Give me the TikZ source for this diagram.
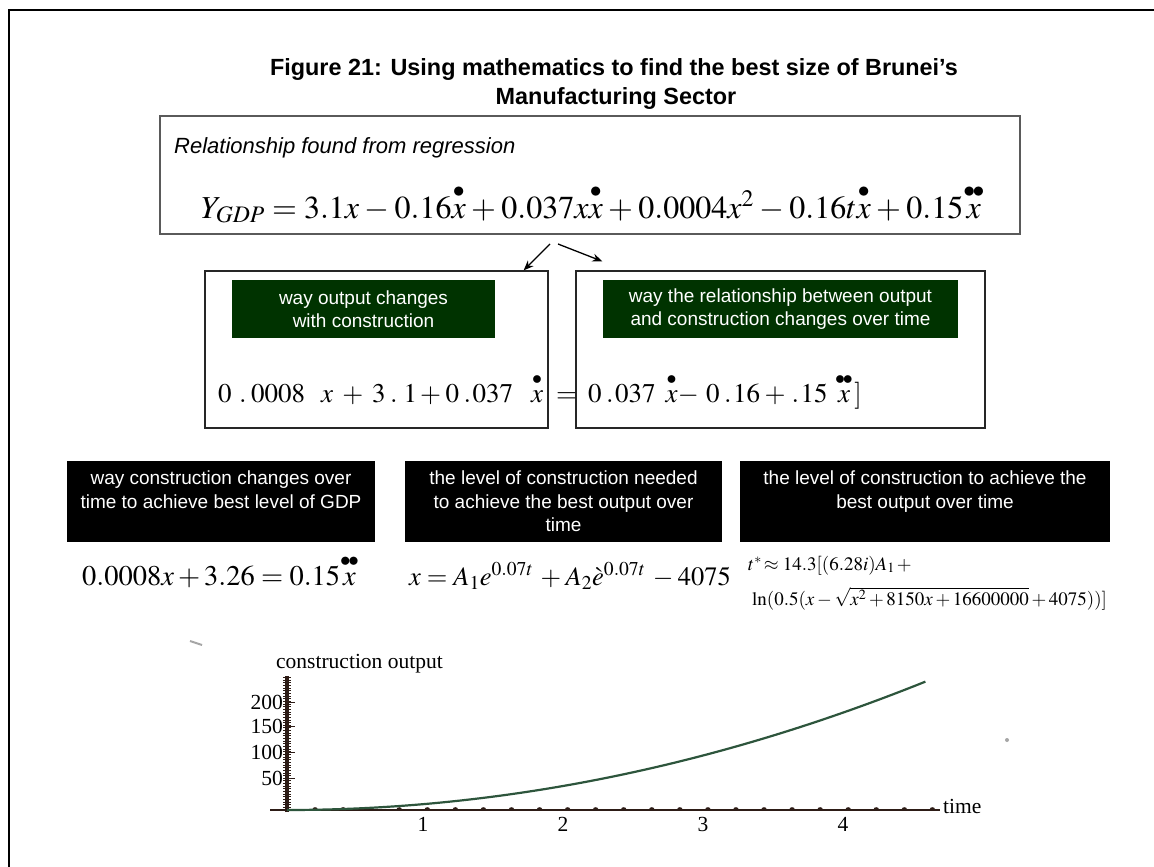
\documentclass[tikz,border=0pt]{standalone}
\usepackage{amsmath}
\usepackage{mathptmx}
\usepackage{fontspec}
\setmainfont{Liberation Serif}
\setsansfont{Liberation Sans}
\usetikzlibrary{arrows.meta}
\definecolor{hdrgreen}{RGB}{0,51,0}
\definecolor{axisbrown}{RGB}{45,28,22}
\definecolor{curvegreen}{RGB}{45,85,60}
\definecolor{boxgray}{RGB}{90,90,90}
\newcommand{\xd}{\overset{\bullet}{x}}
\newcommand{\xdd}{\overset{\bullet\mkern-2mu\bullet}{x}}
\newcommand{\hdrfont}{\sffamily\fontsize{19}{23.5}\selectfont}
\begin{document}
\begin{tikzpicture}[x=1pt,y=-1pt,
  frame/.style={line width=2pt,black},
  topbox/.style={draw=boxgray,line width=1.4pt,inner sep=0pt},
  midbox/.style={draw=black!85,line width=1.3pt,inner sep=0pt},
  greenhdr/.style={fill=hdrgreen,text=white,font=\hdrfont,align=center,inner sep=0pt},
  blackhdr/.style={fill=black,text=white,font=\hdrfont,align=center,inner sep=0pt},
  arr/.style={line width=1.3pt,-{Stealth[length=10pt,width=8pt]}},
  eq/.style={anchor=base west,inner sep=0pt},
  axis/.style={axisbrown,line width=2pt},
  glab/.style={inner sep=0pt,font=\fontsize{21.5}{24}\selectfont}
]
\useasboundingbox (0,0) rectangle (1154,867);
\fill[white] (0,0) rectangle (1154,867);
% outer frame (top and left visible)
\draw[frame] (9,867) -- (9,10) -- (1154,10);
% title
\node[anchor=base,inner sep=0pt,font=\sffamily\bfseries\fontsize{23.4}{25}\selectfont] (title1) at (614,75) {Figure 21: Using mathematics to find the best size of Brunei’s};
\node[anchor=base,inner sep=0pt,font=\sffamily\bfseries\fontsize{23.4}{25}\selectfont] (title2) at (616,104) {Manufacturing Sector};
% top box
\node[topbox,minimum width=860pt,minimum height=118pt] (top) at (590,175) {};
\node[anchor=base west,inner sep=0pt,font=\sffamily\itshape\fontsize{22}{26}\selectfont] (rel) at (174,153) {Relationship found from regression};
\node[eq,font=\fontsize{32}{38}\selectfont] (eqtop) at (201,218) {\medmuskip=3mu\thickmuskip=4mu$Y_{GDP}=3.1x-0.16\xd+0.037x\xd+0.0004x^2-0.16t\xd+0.15\xdd$};
% middle boxes
\node[midbox,minimum width=343pt,minimum height=157pt] (midL) at (376.5,349.5) {};
\node[midbox,minimum width=409pt,minimum height=157pt] (midR) at (780.5,349.5) {};
\node[greenhdr,minimum width=263pt,minimum height=58pt] (gL) at (363.5,309) {way output changes\\with construction};
\node[greenhdr,minimum width=355pt,minimum height=58pt] (gR) at (780.5,309) {way the relationship between output\\and construction changes over time};
\node[eq,font=\fontsize{27}{32}\selectfont] (eqL) at (218,402) {$0\mkern5mu.\mkern3mu0008\hspace{16pt}x\mkern6mu{+}\mkern6mu3\mkern3mu.\mkern4mu1\mkern2mu{+}\mkern3mu0\mkern3mu.\mkern1mu037\hspace{18pt}\xd$};
\node[eq,font=\fontsize{27}{32}\selectfont] (eqeq) at (556,402) {$=$};
\node[eq,font=\fontsize{27}{32}\selectfont] (eqR) at (588,402) {$0\mkern3mu.\mkern1mu037\hspace{10pt}\xd{-}\mkern5mu0\mkern3mu.\mkern1mu16\mkern3mu{+}\mkern4mu.\mkern1mu15\mkern5mu\xdd\mkern1mu]$};
% arrows
\coordinate (a1) at (550,244);
\coordinate (a2) at (558,244);
\draw[arr] (a1) -- ([xshift=-25pt]midL.north east);
\draw[arr] (a2) -- ([xshift=27pt,yshift=9pt]midR.north west);
% black headers
\node[blackhdr,minimum width=308pt,minimum height=81pt] (b1) at (221,501.5) {way construction changes over\\time to achieve best level of GDP\\~};
\node[blackhdr,minimum width=317pt,minimum height=81pt] (b2) at (563.5,501.5) {the level of construction needed\\to achieve the best output over\\time};
\node[blackhdr,minimum width=370pt,minimum height=81pt] (b3) at (925,501.5) {the level of construction to achieve the\\best output over time\\~};
% bottom equations
\node[eq,font=\fontsize{28.5}{33}\selectfont] (e1) at (82,585) {$0.0008x+3.26=0.15\xdd$};
\node[eq,font=\fontsize{26.5}{31}\selectfont] (e2) at (409,585) {\medmuskip=3mu\thickmuskip=4mu$x=A_1e^{0.07t}\,+A_2\grave{e}^{0.07t}\,-4075$};
\node[eq,font=\fontsize{19}{22}\selectfont] (e3a) at (748,570) {$t^{*}\!\approx 14.3[(6.28i)A_1\,+$};
\node[eq,font=\fontsize{19}{22}\selectfont] (e3b) at (752,605) {$\ln(0.5(x-\sqrt{x^2+8150x+16600000}+4075))]$};
% graph
\draw[axisbrown,line width=3.5pt] (287,812) -- (287,676);
\foreach \k in {0,...,50} \draw[axisbrown,line width=0.8pt] (283,{810-\k*2.65}) -- (291,{810-\k*2.65});
\foreach \v in {702,726,752,778} \draw[axisbrown,line width=1pt] (287,\v) -- (295,\v);
\draw[axis] (270,810) -- (940,810);
\foreach \k in {1,...,23} \fill[axisbrown] ({287+\k*28.06},809) ellipse (2.5pt and 1.8pt);
\draw[curvegreen,line width=2.2pt] plot[domain=0:4.55,samples=60] ({287+140.3*\x},{810-6.2*\x*\x});
\node[anchor=base west,glab] (ylab) at (276,668) {construction output};
\node[anchor=east,glab] (y200) at (283,702) {200};
\node[anchor=east,glab] (y150) at (283,726) {150};
\node[anchor=east,glab] (y100) at (283,752) {100};
\node[anchor=east,glab] (y50) at (283,778) {50};
\node[anchor=north,glab] (x1) at (423,817) {1};
\node[anchor=north,glab] (x2) at (563,817) {2};
\node[anchor=north,glab] (x3) at (703,817) {3};
\node[anchor=north,glab] (x4) at (843,817) {4};
\node[anchor=base west,glab] (tlab) at (943,813) {time};
% stray marks
\draw[gray!70,line width=2pt] (190,641) -- (202,645);
\fill[gray!70] (1007,740) circle (2pt);
\end{tikzpicture}
\end{document}
